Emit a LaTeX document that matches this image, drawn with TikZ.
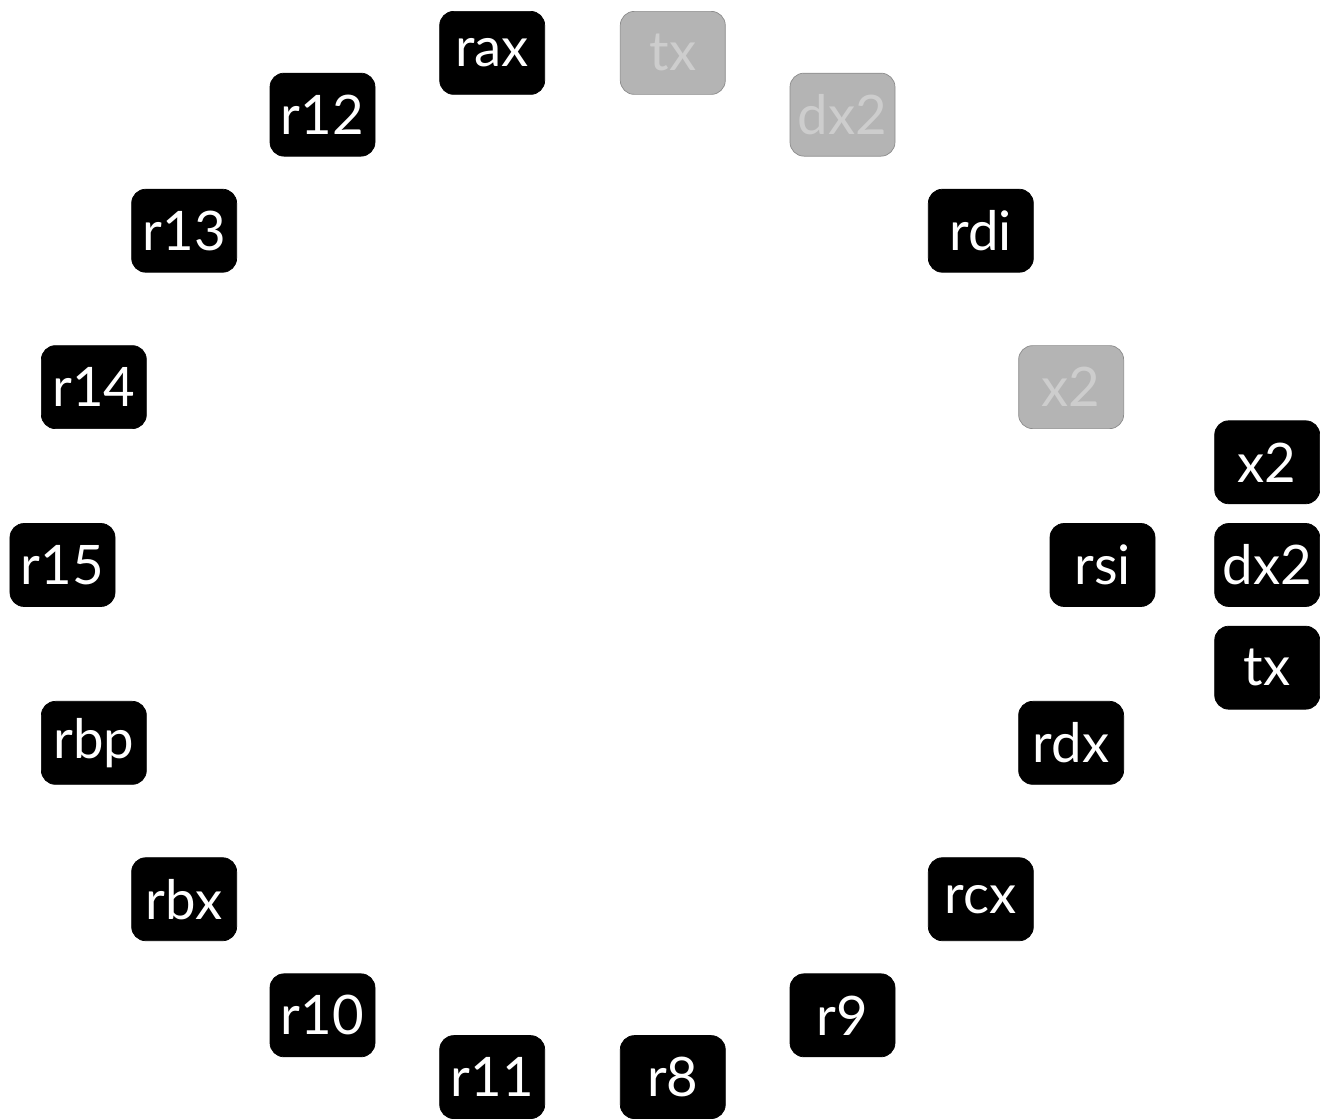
\documentclass[tikz,border=0pt]{standalone}
\usepackage{fontspec}
\setmainfont{Lato}
\usepackage{tikz}
\usetikzlibrary{positioning, calc}
\definecolor{regfill}{RGB}{0,0,0}
\definecolor{fadefill}{RGB}{180,180,180}
\definecolor{fadedraw}{RGB}{140,140,140}
\definecolor{fadetext}{RGB}{205,205,205}

\begin{document}
\begin{tikzpicture}[
  reg/.style={rectangle, rounded corners=0.28cm, draw=regfill, fill=regfill, text=white, minimum width=2.1cm, minimum height=1.66cm, inner sep=0pt, align=center, font=\fontsize{31}{33}\selectfont},
  faded/.style={reg, draw=fadedraw, fill=fadefill, text=fadetext}
]
\useasboundingbox (0,0) rectangle (26.4,22.4);
\coordinate (c) at (11.65,11.1);
% register ring
\node[reg]   (rsi)  at ($(c)+(0:10.4)$)   {rsi};
\node[faded] (fx2)  at ($(c)+(20:10.4)$)  {x2};
\node[reg]   (rdi)  at ($(c)+(40:10.4)$)  {rdi};
\node[faded] (fdx2) at ($(c)+(60:10.4)$)  {dx2};
\node[faded] (ftx)  at ($(c)+(80:10.4)$)  {tx};
\node[reg]   (rax)  at ($(c)+(100:10.4)$) {rax};
\node[reg]   (r12)  at ($(c)+(120:10.4)$) {r12};
\node[reg]   (r13)  at ($(c)+(140:10.4)$) {r13};
\node[reg]   (r14)  at ($(c)+(160:10.4)$) {r14};
\node[reg]   (r15)  at ($(c)+(180:10.4)$) {r15};
\node[reg]   (rbp)  at ($(c)+(200:10.4)$) {rbp};
\node[reg]   (rbx)  at ($(c)+(220:10.4)$) {rbx};
\node[reg]   (r10)  at ($(c)+(240:10.4)$) {r10};
\node[reg]   (r11)  at ($(c)+(260:10.4)$) {r11};
\node[reg]   (r8)   at ($(c)+(280:10.4)$) {r8};
\node[reg]   (r9)   at ($(c)+(300:10.4)$) {r9};
\node[reg]   (rcx)  at ($(c)+(320:10.4)$) {rcx};
\node[reg]   (rdx)  at ($(c)+(340:10.4)$) {rdx};
% stack on the right
\node[reg, right=1.18cm of rsi] (sdx2) {dx2};
\node[reg, above=0.38cm of sdx2] (sx2) {x2};
\node[reg, below=0.38cm of sdx2] (stx) {tx};
\end{tikzpicture}
\end{document}
